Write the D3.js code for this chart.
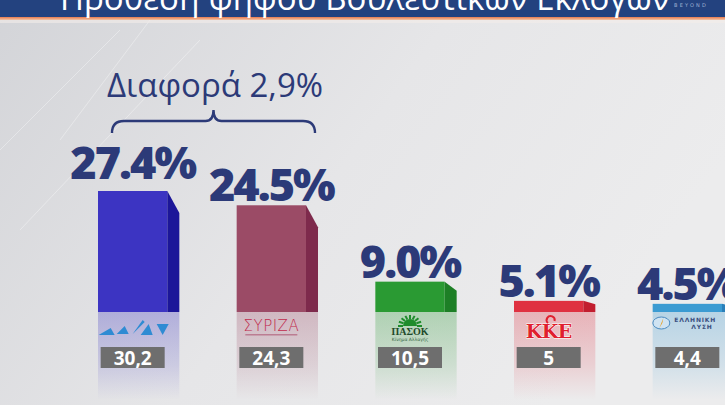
<!DOCTYPE html>
<html>
<head>
<meta charset="utf-8">
<script src="https://cdn.jsdelivr.net/npm/d3@7"></script>
<style>
  body { margin: 0; background: #e2e2e4; }
  svg { display: block; }
</style>
</head>
<body>
<svg id="chart" width="725" height="405"></svg>
<script>
// poll data
var parties = ["ΝΔ", "ΣΥΡΙΖΑ", "ΠΑΣΟΚ", "ΚΚΕ", "Ελληνική Λύση"];
var estimate = [27.4, 24.5, 9.0, 5.1, 4.5];
var previous = [30.2, 24.3, 10.5, 5, 4.4];
var diffLabel = "Διαφορά 2,9%";
var title = "Πρόθεση ψήφου Βουλευτικών Εκλογών";

var frontCol = ["#3c34c2", "#9b4b66", "#2a9a33", "#df3141", "#3b9bd2"];
var sideCol  = ["#1c1699", "#7e2a4c", "#1d7f26", "#c21e2f", "#2a7fb9"];

var W = 725, H = 405;
var navy = "#2c3a78";
var cut = 312;

var svg = d3.select("#chart");
var defs = svg.append("defs");

// background
var bg = defs.append("linearGradient").attr("id", "bg").attr("x1", 0).attr("y1", 0).attr("x2", 1).attr("y2", 0.4);
bg.append("stop").attr("offset", "0%").attr("stop-color", "#d3d4d8");
bg.append("stop").attr("offset", "55%").attr("stop-color", "#e6e6e8");
bg.append("stop").attr("offset", "100%").attr("stop-color", "#ececed");
svg.append("rect").attr("width", W).attr("height", H).attr("fill", "url(#bg)");

// faint light streaks on the left
[[0, 150, 120, 30], [20, 230, 200, 40], [150, 20, 60, 140]].forEach(function(l) {
    svg.append("line").attr("x1", l[0]).attr("y1", l[1]).attr("x2", l[2]).attr("y2", l[3])
        .attr("stroke", "#ffffff").attr("stroke-opacity", 0.35).attr("stroke-width", 1);
});

// header band
svg.append("rect").attr("x", 0).attr("y", 0).attr("width", W).attr("height", 17).attr("fill", "#23427f");
var og = defs.append("linearGradient").attr("id", "og").attr("x1", 0).attr("y1", 0).attr("x2", 0).attr("y2", 1);
og.append("stop").attr("offset", "0%").attr("stop-color", "#e87a4e");
og.append("stop").attr("offset", "100%").attr("stop-color", "#f4c6a8");
svg.append("rect").attr("x", 0).attr("y", 17).attr("width", W).attr("height", 3).attr("fill", "url(#og)");
svg.append("rect").attr("x", 0).attr("y", 20).attr("width", W).attr("height", 3).attr("fill", "#f3ede9").attr("opacity", 0.6);

svg.append("text").attr("x", 60).attr("y", 10)
    .attr("font-family", "Open Sans").attr("font-size", 33).attr("fill", "#ffffff")
    .text(title);
svg.append("text").attr("x", 674).attr("y", 7)
    .attr("font-family", "DejaVu Sans").attr("font-size", 5).attr("letter-spacing", 2.2)
    .attr("fill", "#9eb0d2").text("BEYOND");

// scales
var x = d3.scaleBand().domain(parties).range([98, 722]).paddingInner(0.5);
var y = d3.scaleLinear().domain([0, 27.4]).range([326, 191]);
var bw = x.bandwidth();
var depth = 12;

defs.append("clipPath").attr("id", "cut").append("rect")
    .attr("x", 0).attr("y", 0).attr("width", W).attr("height", cut);

var data = parties.map(function(p, i) {
    return { party: p, v: estimate[i], prev: previous[i], i: i };
});

// reflections below the cut line
data.forEach(function(d) {
    var g = defs.append("linearGradient").attr("id", "rf" + d.i).attr("x1", 0).attr("y1", 0).attr("x2", 0).attr("y2", 1);
    g.append("stop").attr("offset", "0%").attr("stop-color", frontCol[d.i]).attr("stop-opacity", 0.3);
    g.append("stop").attr("offset", "60%").attr("stop-color", frontCol[d.i]).attr("stop-opacity", 0.15);
    g.append("stop").attr("offset", "100%").attr("stop-color", frontCol[d.i]).attr("stop-opacity", 0);
});
svg.selectAll("rect.refl").data(data).enter().append("rect")
    .attr("class", "refl")
    .attr("x", function(d) { return x(d.party); })
    .attr("y", cut)
    .attr("width", bw + depth)
    .attr("height", 88)
    .attr("fill", function(d) { return "url(#rf" + d.i + ")"; });

// bars
var bars = svg.append("g").attr("clip-path", "url(#cut)");
bars.selectAll("rect.front").data(data).enter().append("rect")
    .attr("class", "front")
    .attr("x", function(d) { return x(d.party); })
    .attr("y", function(d) { return y(d.v); })
    .attr("width", bw)
    .attr("height", function(d) { return y(0) - y(d.v); })
    .attr("fill", function(d) { return frontCol[d.i]; });

bars.selectAll("path.side").data(data).enter().append("path")
    .attr("class", "side")
    .attr("d", function(d) {
        var x0 = x(d.party) + bw, top = y(d.v);
        var drop = Math.min(22, (cut - top) * 0.3);
        return "M" + x0 + "," + top + "L" + (x0 + depth) + "," + (top + drop) +
               "L" + (x0 + depth) + "," + y(0) + "L" + x0 + "," + y(0) + "Z";
    })
    .attr("fill", function(d) { return sideCol[d.i]; });

// percent labels
svg.selectAll("text.pct").data(data).enter().append("text")
    .attr("class", "pct")
    .attr("x", function(d) { return x(d.party) + bw / 2; })
    .attr("y", function(d) { return y(d.v) - (d.i === 0 ? 12 : 4); })
    .attr("text-anchor", "middle")
    .attr("font-family", "Open Sans").attr("font-weight", 800)
    .attr("font-size", 45).attr("letter-spacing", -2)
    .attr("fill", navy)
    .text(function(d) { return d3.format(".1f")(d.v) + "%"; });

// difference label + brace
svg.append("text").attr("x", 215).attr("y", 97)
    .attr("text-anchor", "middle")
    .attr("font-family", "Open Sans").attr("font-size", 33)
    .attr("fill", navy).text(diffLabel);
var bx0 = 112, bx1 = 315, bm = (bx0 + bx1) / 2;
svg.append("path")
    .attr("d", "M" + bx0 + ",133 Q" + bx0 + ",121 " + (bx0 + 12) + ",121 L" + (bm - 8) + ",121 Q" + bm + ",121 " + bm + ",110" +
               " Q" + bm + ",121 " + (bm + 8) + ",121 L" + (bx1 - 12) + ",121 Q" + bx1 + ",121 " + bx1 + ",133")
    .attr("fill", "none").attr("stroke", navy).attr("stroke-width", 2.4);

// previous election result boxes
var boxes = svg.selectAll("g.prev").data(data).enter().append("g").attr("class", "prev")
    .attr("transform", function(d) { return "translate(" + (x(d.party) + bw / 2) + ",0)"; });
boxes.append("rect").attr("x", -32).attr("y", 347).attr("width", 64).attr("height", 21)
    .attr("fill", "#6e6e6e");
boxes.append("text").attr("y", 365).attr("text-anchor", "middle")
    .attr("font-family", "Open Sans").attr("font-weight", 700).attr("font-size", 19)
    .attr("fill", "#ffffff")
    .text(function(d) { return String(d.prev).replace(".", ","); });

// party marks (simplified logos)
var logo = svg.selectAll("g.logo").data(data).enter().append("g").attr("class", "logo")
    .attr("transform", function(d) { return "translate(" + (x(d.party) + bw / 2) + ",0)"; });

// ND
var nd = d3.select(logo.nodes()[0]);
[[-34, 335, -22, 328, -18, 335], [-16, 334, -8, 326, -4, 334], [0, 334, 10, 320, 12, 322], [8, 335, 16, 324, 20, 335], [24, 324, 36, 324, 30, 335]]
    .forEach(function(p) {
        nd.append("path").attr("d", "M" + p[0] + "," + p[1] + "L" + p[2] + "," + p[3] + "L" + p[4] + "," + p[5] + "Z")
            .attr("fill", "#2f8bd3");
    });

// SYRIZA
var sy = d3.select(logo.nodes()[1]);
sy.append("text").attr("y", 331).attr("text-anchor", "middle")
    .attr("font-family", "DejaVu Sans").attr("font-size", 15).attr("font-weight", 300)
    .attr("letter-spacing", 0.5).attr("fill", "#c02a4c").text("ΣΥΡΙΖΑ");
sy.append("rect").attr("x", -26).attr("y", 334).attr("width", 52).attr("height", 1.5).attr("fill", "#b0607a").attr("opacity", 0.7);

// PASOK
var pa = d3.select(logo.nodes()[2]);
pa.append("path").attr("d", d3.arc()({ innerRadius: 0, outerRadius: 7, startAngle: -Math.PI / 2, endAngle: Math.PI / 2 }))
    .attr("transform", "translate(0,326)").attr("fill", "#1f8c2c");
d3.range(9).forEach(function(k) {
    var a = -Math.PI + k * Math.PI / 8;
    pa.append("line").attr("x1", Math.cos(a) * 7).attr("y1", 326 + Math.sin(a) * 7)
        .attr("x2", Math.cos(a) * 12).attr("y2", 326 + Math.sin(a) * 11)
        .attr("stroke", "#1f8c2c").attr("stroke-width", 2);
});
pa.append("text").attr("y", 335).attr("text-anchor", "middle")
    .attr("font-family", "Liberation Serif").attr("font-weight", 700).attr("font-size", 10)
    .attr("fill", "#1f4a2a").text("ΠΑΣΟΚ");
pa.append("text").attr("y", 341).attr("text-anchor", "middle")
    .attr("font-family", "DejaVu Sans").attr("font-size", 4.5)
    .attr("fill", "#3a6a45").text("Κίνημα Αλλαγής");

// KKE
var kk = d3.select(logo.nodes()[3]);
kk.append("text").attr("y", 338).attr("text-anchor", "middle")
    .attr("font-family", "DejaVu Serif").attr("font-weight", 700).attr("font-size", 19)
    .attr("letter-spacing", -0.5)
    .attr("stroke", "#ffffff").attr("stroke-width", 0.8).attr("paint-order", "stroke")
    .attr("fill", "#e0202e").text("ΚΚΕ");
kk.append("path").attr("d", d3.arc()({ innerRadius: 3, outerRadius: 5, startAngle: -2.4, endAngle: 1.8 }))
    .attr("transform", "translate(2,320)").attr("fill", "#e0202e");

// Elliniki Lysi
var ly = d3.select(logo.nodes()[4]);
ly.append("ellipse").attr("cx", -26).attr("cy", 323).attr("rx", 8.5).attr("ry", 6)
    .attr("fill", "#cfe3f2").attr("stroke", "#4a8ac0").attr("stroke-width", 1);
ly.append("path").attr("d", "M-24,318L-28,328L-25,323Z").attr("fill", "#e8a020");
ly.append("text").attr("x", -13).attr("y", 322)
    .attr("font-family", "DejaVu Sans").attr("font-weight", 700).attr("font-size", 6)
    .attr("letter-spacing", 0.8).attr("fill", "#3a4f80").text("ΕΛΛΗΝΙΚΗ");
ly.append("text").attr("x", 4).attr("y", 329)
    .attr("font-family", "DejaVu Sans").attr("font-weight", 700).attr("font-size", 6)
    .attr("letter-spacing", 0.8).attr("fill", "#3a4f80").text("ΛΥΣΗ");
</script>
</body>
</html>
